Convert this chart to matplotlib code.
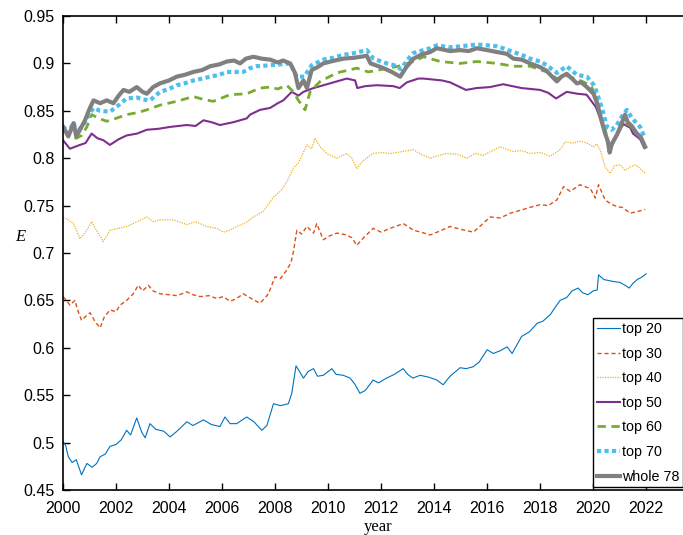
import matplotlib
matplotlib.use("Agg")
import matplotlib.pyplot as plt
from matplotlib.ticker import FormatStrFormatter

# ---- data (year, E) ----
t20_year = [2000.0, 2000.1, 2000.2, 2000.35, 2000.5, 2000.7, 2000.9, 2001.1, 2001.27, 2001.4, 2001.6, 2001.77, 2002.0, 2002.2, 2002.4, 2002.55, 2002.78, 2002.97, 2003.1, 2003.28, 2003.5, 2003.8, 2004.04, 2004.3, 2004.67, 2004.9, 2005.3, 2005.6, 2005.92, 2006.11, 2006.3, 2006.55, 2006.93, 2007.2, 2007.5, 2007.69, 2007.94, 2008.2, 2008.5, 2008.63, 2008.79, 2009.07, 2009.25, 2009.45, 2009.6, 2009.82, 2010.14, 2010.3, 2010.57, 2010.83, 2011.0, 2011.2, 2011.4, 2011.7, 2011.9, 2012.2, 2012.5, 2012.83, 2013.0, 2013.2, 2013.47, 2013.8, 2014.1, 2014.34, 2014.6, 2014.98, 2015.2, 2015.47, 2015.7, 2016.0, 2016.23, 2016.5, 2016.75, 2016.94, 2017.1, 2017.3, 2017.6, 2017.89, 2018.1, 2018.38, 2018.55, 2018.75, 2019.0, 2019.2, 2019.43, 2019.6, 2019.8, 2020.0, 2020.15, 2020.2, 2020.4, 2020.75, 2021.0, 2021.2, 2021.36, 2021.5, 2021.66, 2021.8, 2022.0]
t20_E = [0.501, 0.497, 0.485, 0.479, 0.482, 0.466, 0.478, 0.474, 0.478, 0.485, 0.488, 0.496, 0.498, 0.503, 0.513, 0.508, 0.526, 0.511, 0.505, 0.520, 0.514, 0.512, 0.506, 0.512, 0.522, 0.518, 0.524, 0.519, 0.517, 0.527, 0.520, 0.520, 0.527, 0.522, 0.513, 0.518, 0.541, 0.539, 0.541, 0.552, 0.581, 0.568, 0.575, 0.578, 0.570, 0.571, 0.578, 0.572, 0.571, 0.568, 0.562, 0.552, 0.555, 0.566, 0.563, 0.568, 0.572, 0.578, 0.572, 0.568, 0.571, 0.569, 0.566, 0.561, 0.570, 0.579, 0.578, 0.580, 0.585, 0.598, 0.594, 0.597, 0.601, 0.594, 0.602, 0.612, 0.617, 0.626, 0.628, 0.635, 0.642, 0.650, 0.653, 0.660, 0.663, 0.658, 0.656, 0.660, 0.661, 0.677, 0.672, 0.670, 0.669, 0.666, 0.663, 0.668, 0.672, 0.674, 0.678]

t30_year = [2000.0, 2000.1, 2000.26, 2000.45, 2000.55, 2000.7, 2000.85, 2001.02, 2001.2, 2001.4, 2001.55, 2001.77, 2002.0, 2002.15, 2002.4, 2002.65, 2002.84, 2003.0, 2003.22, 2003.4, 2003.66, 2004.0, 2004.3, 2004.67, 2004.9, 2005.17, 2005.5, 2005.8, 2006.05, 2006.3, 2006.55, 2006.8, 2007.1, 2007.43, 2007.6, 2007.75, 2008.0, 2008.2, 2008.44, 2008.6, 2008.69, 2008.82, 2009.0, 2009.2, 2009.45, 2009.57, 2009.82, 2010.05, 2010.33, 2010.7, 2010.9, 2011.08, 2011.3, 2011.7, 2012.0, 2012.34, 2012.84, 2013.22, 2013.5, 2013.85, 2014.2, 2014.6, 2015.0, 2015.48, 2015.8, 2016.11, 2016.5, 2016.87, 2017.25, 2017.6, 2018.0, 2018.3, 2018.63, 2018.88, 2019.13, 2019.5, 2019.89, 2020.08, 2020.2, 2020.45, 2020.65, 2020.89, 2021.1, 2021.4, 2021.7, 2021.96]
t30_E = [0.654, 0.651, 0.645, 0.650, 0.640, 0.629, 0.633, 0.637, 0.628, 0.621, 0.632, 0.640, 0.638, 0.645, 0.650, 0.657, 0.666, 0.660, 0.666, 0.660, 0.657, 0.656, 0.655, 0.659, 0.656, 0.654, 0.655, 0.652, 0.654, 0.649, 0.652, 0.657, 0.652, 0.647, 0.652, 0.657, 0.675, 0.673, 0.682, 0.690, 0.701, 0.724, 0.720, 0.728, 0.721, 0.731, 0.714, 0.718, 0.721, 0.719, 0.716, 0.708, 0.715, 0.726, 0.722, 0.726, 0.731, 0.724, 0.722, 0.719, 0.723, 0.728, 0.725, 0.722, 0.730, 0.738, 0.737, 0.742, 0.745, 0.748, 0.751, 0.750, 0.756, 0.770, 0.765, 0.772, 0.768, 0.758, 0.772, 0.756, 0.752, 0.749, 0.748, 0.742, 0.744, 0.746]

t40_year = [2000.0, 2000.2, 2000.4, 2000.64, 2000.85, 2001.08, 2001.3, 2001.52, 2001.77, 2002.1, 2002.4, 2002.8, 2003.16, 2003.4, 2003.66, 2004.16, 2004.67, 2005.0, 2005.42, 2005.8, 2006.05, 2006.3, 2006.55, 2006.9, 2007.18, 2007.56, 2007.94, 2008.2, 2008.44, 2008.7, 2008.88, 2009.2, 2009.38, 2009.5, 2009.7, 2009.95, 2010.33, 2010.7, 2010.9, 2011.08, 2011.3, 2011.7, 2012.0, 2012.34, 2012.8, 2013.22, 2013.5, 2013.85, 2014.2, 2014.48, 2014.9, 2015.23, 2015.55, 2015.86, 2016.2, 2016.49, 2016.99, 2017.3, 2017.62, 2018.0, 2018.38, 2018.75, 2018.94, 2019.26, 2019.5, 2019.76, 2020.01, 2020.13, 2020.26, 2020.45, 2020.64, 2020.8, 2021.02, 2021.2, 2021.4, 2021.6, 2021.77, 2021.96]
t40_E = [0.738, 0.735, 0.731, 0.715, 0.722, 0.733, 0.722, 0.712, 0.724, 0.726, 0.728, 0.733, 0.738, 0.733, 0.735, 0.735, 0.730, 0.733, 0.728, 0.726, 0.722, 0.724, 0.728, 0.732, 0.738, 0.744, 0.759, 0.765, 0.775, 0.790, 0.795, 0.814, 0.810, 0.821, 0.812, 0.805, 0.800, 0.805, 0.800, 0.789, 0.797, 0.805, 0.806, 0.805, 0.807, 0.809, 0.804, 0.800, 0.803, 0.805, 0.804, 0.800, 0.805, 0.803, 0.808, 0.812, 0.807, 0.808, 0.805, 0.806, 0.802, 0.809, 0.817, 0.816, 0.818, 0.816, 0.812, 0.815, 0.809, 0.791, 0.784, 0.792, 0.793, 0.787, 0.791, 0.793, 0.789, 0.784]

t50_year = [2000.0, 2000.26, 2000.45, 2000.64, 2000.85, 2001.08, 2001.3, 2001.52, 2001.77, 2002.1, 2002.4, 2002.8, 2003.16, 2003.6, 2004.04, 2004.67, 2005.0, 2005.3, 2005.6, 2005.92, 2006.43, 2006.93, 2007.06, 2007.43, 2007.81, 2008.1, 2008.31, 2008.63, 2008.88, 2009.07, 2009.45, 2010.08, 2010.7, 2011.02, 2011.1, 2011.4, 2011.84, 2012.46, 2012.7, 2012.97, 2013.4, 2013.6, 2014.3, 2014.6, 2015.2, 2015.6, 2016.1, 2016.6, 2017.3, 2018.0, 2018.3, 2018.6, 2019.0, 2019.4, 2019.75, 2020.1, 2020.26, 2020.45, 2020.62, 2020.9, 2021.14, 2021.4, 2021.5, 2021.77, 2021.92]
t50_E = [0.819, 0.810, 0.812, 0.814, 0.816, 0.826, 0.821, 0.819, 0.814, 0.820, 0.824, 0.826, 0.830, 0.831, 0.833, 0.835, 0.834, 0.840, 0.838, 0.835, 0.838, 0.842, 0.846, 0.851, 0.853, 0.858, 0.861, 0.870, 0.866, 0.870, 0.874, 0.879, 0.884, 0.882, 0.874, 0.876, 0.877, 0.876, 0.874, 0.880, 0.884, 0.884, 0.882, 0.880, 0.872, 0.874, 0.875, 0.878, 0.874, 0.872, 0.869, 0.863, 0.870, 0.868, 0.867, 0.854, 0.842, 0.826, 0.808, 0.824, 0.836, 0.832, 0.826, 0.820, 0.811]

t60_year = [2000.0, 2000.25, 2000.5, 2000.7, 2000.9, 2001.08, 2001.35, 2001.65, 2002.0, 2002.4, 2002.8, 2003.16, 2003.66, 2004.29, 2004.92, 2005.3, 2005.67, 2006.3, 2006.93, 2007.43, 2007.81, 2008.1, 2008.44, 2008.69, 2008.88, 2009.13, 2009.32, 2009.7, 2010.33, 2011.08, 2011.52, 2012.09, 2012.65, 2013.22, 2013.6, 2014.23, 2014.98, 2015.61, 2016.37, 2016.99, 2017.62, 2018.25, 2018.63, 2019.0, 2019.5, 2019.9, 2020.08, 2020.26, 2020.45, 2020.62, 2020.9, 2021.14, 2021.4, 2021.5, 2021.77, 2021.92]
t60_E = [0.830, 0.826, 0.821, 0.824, 0.833, 0.846, 0.842, 0.839, 0.842, 0.846, 0.848, 0.851, 0.856, 0.860, 0.865, 0.862, 0.860, 0.867, 0.868, 0.874, 0.875, 0.873, 0.877, 0.870, 0.861, 0.851, 0.870, 0.881, 0.890, 0.895, 0.891, 0.894, 0.897, 0.902, 0.907, 0.902, 0.900, 0.902, 0.900, 0.897, 0.897, 0.891, 0.884, 0.887, 0.882, 0.877, 0.868, 0.846, 0.830, 0.810, 0.825, 0.838, 0.834, 0.830, 0.823, 0.814]

t70_year = [2000.0, 2000.2, 2000.4, 2000.5, 2000.64, 2000.83, 2001.0, 2001.15, 2001.4, 2001.77, 2002.1, 2002.4, 2002.8, 2003.0, 2003.28, 2003.66, 2004.0, 2004.29, 2004.6, 2004.92, 2005.25, 2005.55, 2005.9, 2006.18, 2006.8, 2007.06, 2007.3, 2007.81, 2008.2, 2008.57, 2008.82, 2009.1, 2009.38, 2009.82, 2010.2, 2010.58, 2011.0, 2011.46, 2011.71, 2012.21, 2012.5, 2012.75, 2013.0, 2013.22, 2013.85, 2014.1, 2014.6, 2015.0, 2015.61, 2016.0, 2016.37, 2016.7, 2016.99, 2017.3, 2017.62, 2018.0, 2018.25, 2018.63, 2019.0, 2019.38, 2019.76, 2020.0, 2020.1, 2020.35, 2020.52, 2020.7, 2020.89, 2021.1, 2021.27, 2021.4, 2021.6, 2021.77, 2021.92]
t70_E = [0.834, 0.826, 0.838, 0.826, 0.831, 0.838, 0.847, 0.853, 0.850, 0.849, 0.856, 0.863, 0.864, 0.862, 0.861, 0.870, 0.873, 0.877, 0.879, 0.882, 0.884, 0.886, 0.888, 0.891, 0.891, 0.895, 0.897, 0.898, 0.899, 0.900, 0.886, 0.886, 0.898, 0.904, 0.906, 0.909, 0.911, 0.914, 0.905, 0.900, 0.898, 0.894, 0.904, 0.911, 0.916, 0.919, 0.917, 0.918, 0.920, 0.919, 0.918, 0.915, 0.912, 0.909, 0.905, 0.902, 0.898, 0.890, 0.897, 0.888, 0.886, 0.878, 0.872, 0.851, 0.833, 0.830, 0.835, 0.845, 0.851, 0.845, 0.838, 0.833, 0.823]

w78_year = [2000.0, 2000.2, 2000.4, 2000.5, 2000.64, 2000.83, 2001.0, 2001.15, 2001.4, 2001.65, 2001.9, 2002.1, 2002.28, 2002.5, 2002.78, 2003.0, 2003.16, 2003.4, 2003.66, 2004.0, 2004.29, 2004.6, 2004.92, 2005.25, 2005.55, 2005.9, 2006.18, 2006.45, 2006.68, 2006.9, 2007.18, 2007.5, 2007.81, 2008.1, 2008.3, 2008.57, 2008.75, 2008.88, 2009.07, 2009.2, 2009.38, 2009.6, 2009.82, 2010.1, 2010.58, 2011.0, 2011.46, 2011.6, 2011.9, 2012.09, 2012.4, 2012.72, 2012.95, 2013.22, 2013.5, 2013.85, 2014.1, 2014.6, 2014.98, 2015.3, 2015.61, 2016.0, 2016.37, 2016.75, 2016.99, 2017.3, 2017.62, 2018.0, 2018.25, 2018.45, 2018.63, 2018.8, 2019.0, 2019.2, 2019.38, 2019.55, 2019.76, 2020.01, 2020.15, 2020.3, 2020.45, 2020.55, 2020.62, 2020.7, 2020.9, 2021.05, 2021.2, 2021.3, 2021.45, 2021.65, 2021.8, 2021.96]
w78_E = [0.833, 0.823, 0.837, 0.823, 0.830, 0.840, 0.852, 0.861, 0.858, 0.861, 0.858, 0.866, 0.872, 0.870, 0.875, 0.870, 0.868, 0.875, 0.879, 0.882, 0.886, 0.888, 0.891, 0.893, 0.897, 0.899, 0.902, 0.903, 0.900, 0.905, 0.907, 0.905, 0.904, 0.901, 0.903, 0.900, 0.890, 0.874, 0.882, 0.874, 0.893, 0.896, 0.900, 0.902, 0.905, 0.906, 0.908, 0.900, 0.897, 0.895, 0.891, 0.886, 0.896, 0.905, 0.909, 0.912, 0.916, 0.913, 0.914, 0.913, 0.916, 0.914, 0.912, 0.910, 0.905, 0.904, 0.900, 0.896, 0.892, 0.886, 0.881, 0.886, 0.889, 0.884, 0.879, 0.880, 0.875, 0.868, 0.858, 0.841, 0.826, 0.818, 0.806, 0.815, 0.825, 0.835, 0.846, 0.838, 0.834, 0.826, 0.822, 0.812]

labels = ["top 20", "top 30", "top 40", "top 50", "top 60", "top 70", "whole 78"]
x_ticks = list(range(2000, 2023, 2))
y_ticks = [0.45, 0.5, 0.55, 0.6, 0.65, 0.7, 0.75, 0.8, 0.85, 0.9, 0.95]

# ---- figure ----
plt.rcParams['font.family'] = ['Liberation Sans', 'DejaVu Sans']
W, H = 683, 535
fig = plt.figure(figsize=(W / 100, H / 100), dpi=100)
ax = fig.add_axes([63 / W, (H - 490) / H, 623 / W, 474 / H])

series = [
    (t20_year, t20_E, dict(color='#0072BD', lw=0.8, ls='-')),
    (t30_year, t30_E, dict(color='#D95319', lw=1.0, ls=(0, (3, 2)))),
    (t40_year, t40_E, dict(color='#EDB120', lw=0.9, ls=(0, (1, 1)))),
    (t50_year, t50_E, dict(color='#7E2F8E', lw=1.5, ls='-')),
    (t60_year, t60_E, dict(color='#77AC30', lw=2.0, ls=(0, (3, 2)))),
    (t70_year, t70_E, dict(color='#4DBEEE', lw=3.0, ls=(0, (1, 0.8)))),
    (w78_year, w78_E, dict(color='#808080', lw=3.0, ls='-')),
]
for (xs, ys, st), lab in zip(series, labels):
    ax.plot(xs, ys, label=lab, **st)

ax.set_xlim(2000, 2023.5)
ax.set_ylim(0.45, 0.95)
ax.set_xticks(x_ticks)
ax.set_yticks(y_ticks)
ax.yaxis.set_major_formatter(FormatStrFormatter('%g'))
ax.tick_params(direction='in', length=5, width=1, top=True, right=False,
               labelsize=11.5)
ax.tick_params(axis='x', pad=8)
ax.tick_params(axis='y', pad=6)
for s in ['left', 'bottom', 'top']:
    ax.spines[s].set_linewidth(1.2)
ax.spines['right'].set_visible(False)

leg = ax.legend(loc='lower right', bbox_to_anchor=(0.995, 0.006), fontsize=10.3,
                frameon=True, fancybox=False, edgecolor='black', framealpha=1,
                handlelength=1.6, handletextpad=0.15, labelspacing=0.74,
                borderpad=0.25, borderaxespad=0)
leg.get_frame().set_linewidth(1.0)

fig.text(20 / W, 1 - 237 / H, 'E', family=['Liberation Serif', 'DejaVu Serif'],
         style='italic', fontsize=12, ha='center', va='center')
fig.text(378 / W, 1 - 527 / H, 'year', family=['Liberation Serif', 'DejaVu Serif'],
         fontsize=12, ha='center', va='center')

fig.savefig('out.png', dpi=100)
